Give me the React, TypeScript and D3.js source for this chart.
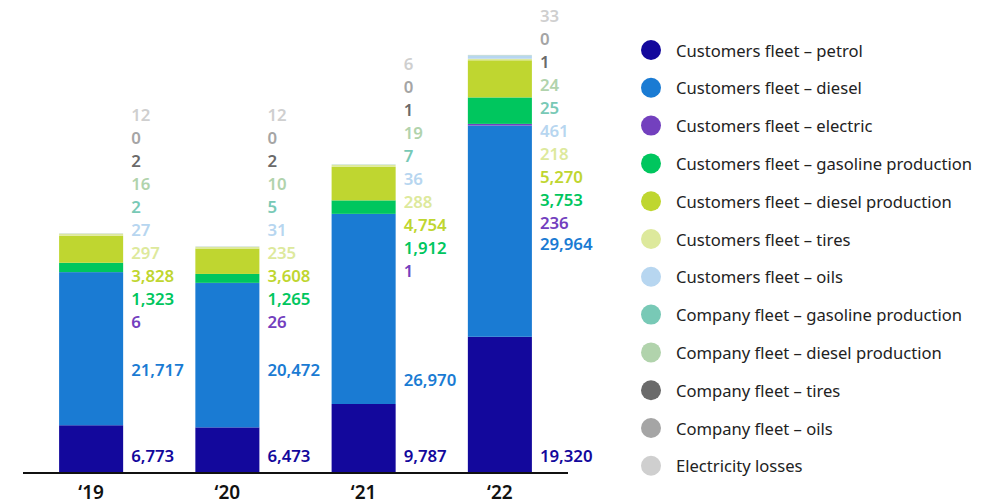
import React from "react";
import * as d3 from "d3";

const years = ["‘19", "‘20", "‘21", "‘22"];

const seriesNames = [
  "Customers fleet – petrol",
  "Customers fleet – diesel",
  "Customers fleet – electric",
  "Customers fleet – gasoline production",
  "Customers fleet – diesel production",
  "Customers fleet – tires",
  "Customers fleet – oils",
  "Company fleet – gasoline production",
  "Company fleet – diesel production",
  "Company fleet – tires",
  "Company fleet – oils",
  "Electricity losses",
];

const seriesColors = [
  "#13089c",
  "#1a7bd3",
  "#7340be",
  "#00c65e",
  "#bfd630",
  "#dde99c",
  "#b7d6f0",
  "#78c9b6",
  "#b1d3ac",
  "#6a6a6a",
  "#a5a5a5",
  "#cfcfcf",
];

// values per series, one entry per year
const petrol = [6773, 6473, 9787, 19320];
const diesel = [21717, 20472, 26970, 29964];
const electric = [6, 26, 1, 236];
const gasolineProd = [1323, 1265, 1912, 3753];
const dieselProd = [3828, 3608, 4754, 5270];
const tires = [297, 235, 288, 218];
const oils = [27, 31, 36, 461];
const coGasolineProd = [2, 5, 7, 25];
const coDieselProd = [16, 10, 19, 24];
const coTires = [2, 2, 1, 1];
const coOils = [0, 0, 0, 0];
const losses = [12, 12, 6, 33];

const allSeries = [
  petrol, diesel, electric, gasolineProd, dieselProd, tires,
  oils, coGasolineProd, coDieselProd, coTires, coOils, losses,
];

const W = 991;
const H = 504;
const baseY = 473;

// label placement (hand-tuned like the original report)
const electricLabelY = [321, 321, 270, 222];
const dieselLabelY = [369, 369, 379, 243];
const petrolLabelY = 455;
const labelStep = 23;

export default function App() {
  const rows = years.map((y, i) => {
    const r: any = { year: y };
    allSeries.forEach((s, k) => (r["s" + k] = s[i]));
    return r;
  });
  const keys = allSeries.map((_, k) => "s" + k);
  const stacked = d3.stack().keys(keys)(rows);

  const x = d3.scaleBand().domain(years).range([23, 568]).paddingInner(0.53).paddingOuter(0.265);
  const y = d3.scaleLinear().domain([0, 60000]).range([baseY, 50]);
  const labelX = (yr: string) => (x(yr) as number) + x.bandwidth() + 8;
  const fmt = d3.format(",");

  const font = "'Noto Sans', sans-serif";

  return (
    <svg width={W} height={H} style={{ position: "absolute", left: 0, top: 0 }}>
      <rect width={W} height={H} fill="#fff" />
      {stacked.map((layer, k) => (
        <g key={k} fill={seriesColors[k]}>
          {layer.map((d, i) => (
            <rect
              key={i}
              x={x(years[i])}
              width={x.bandwidth()}
              y={y(d[1])}
              height={Math.max(0, y(d[0]) - y(d[1]))}
            />
          ))}
        </g>
      ))}
      <line x1={23} x2={568} y1={baseY} y2={baseY} stroke="#111" strokeWidth={2} />
      {years.map((yr) => (
        <text
          key={yr}
          x={(x(yr) as number) + x.bandwidth() / 2}
          y={499}
          textAnchor="middle"
          fontFamily={font}
          fontWeight={600}
          fontSize={19}
          fill="#111"
        >
          {yr}
        </text>
      ))}
      {years.map((yr, i) =>
        allSeries.map((s, k) => {
          let ly: number;
          if (k === 0) ly = petrolLabelY;
          else if (k === 1) ly = dieselLabelY[i];
          else ly = electricLabelY[i] - (k - 2) * labelStep;
          return (
            <text
              key={yr + k}
              x={labelX(yr)}
              y={ly}
              dominantBaseline="central"
              fontFamily={font}
              fontWeight={600}
              fontSize={16.8}
              fill={seriesColors[k]}
            >
              {fmt(s[i])}
            </text>
          );
        })
      )}
      {seriesNames.map((name, k) => (
        <g key={name} transform={`translate(651,${50 + k * 37.8})`}>
          <circle r={10} fill={seriesColors[k]} />
          <text x={25} dominantBaseline="central" fontFamily={font} fontSize={16.6} fill="#222">
            {name}
          </text>
        </g>
      ))}
    </svg>
  );
}
